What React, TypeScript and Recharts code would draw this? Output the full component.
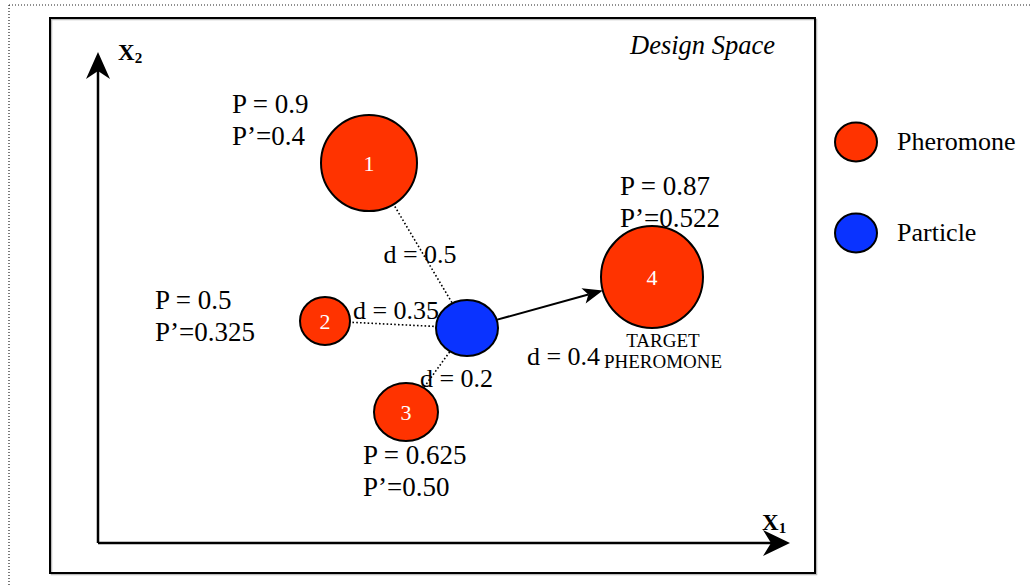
import {
  Legend,
  ReferenceArea,
  ReferenceLine,
  Scatter,
  ScatterChart,
  XAxis,
  YAxis,
} from 'recharts';

const SERIF = '"Liberation Serif", "Times New Roman", serif';
const RED = '#ff3300';
const BLUE = '#0a33ff';

// design-space coordinates, (0,0) is the corner of the X1 / X2 axes
const pheromoneIds = ['1', '2', '3', '4'];
const pheromoneX = [271, 227, 308, 554];
const pheromoneY = [380, 222, 131, 266];
const pheromoneP = ['0.9', '0.5', '0.625', '0.87'];
const pheromonePPrime = ['0.4', '0.325', '0.50', '0.522'];

const particleX = [369];
const particleY = [215];

// particle -> pheromone i
const distances = ['0.5', '0.35', '0.2', '0.4'];
const TARGET = 3;

const legendOrder = ['Pheromone', 'Particle'];

// ---- layout (not data) ----
const W = 1032;
const H = 586;
const X_DOMAIN = [-98, 934];
const Y_DOMAIN = [-43, 543];
const AXIS_LEN = { x: 692, y: 491 };
const BOX = { x1: -48, x2: 717, y1: -30, y2: 525 };
const PAGE = { left: -89, top: 538 };

const PH_R: Record<string, [number, number]> = {
  '1': [48, 48],
  '2': [25, 24],
  '3': [32, 29],
  '4': [51, 51],
};
const PA_R: [number, number] = [31, 28];

const P_OFF = [[-137, 50], [-170, 12], [-43, -52], [-32, 82]];
const D_OFF = [[2, -17], [0, 6], [20, -17], [4, -62]];

type Kind = 'p' | 'd' | 'target' | 'title' | 'axis';

const TEXT_STYLE: Record<Kind, { size: number; anchor: string; italic?: boolean; bold?: boolean }> = {
  p: { size: 27, anchor: 'start' },
  d: { size: 26, anchor: 'middle' },
  target: { size: 19, anchor: 'middle' },
  title: { size: 26.5, anchor: 'end', italic: true },
  axis: { size: 23, anchor: 'start', bold: true },
};

const pheromones = pheromoneIds.map((id, i) => ({ id, x: pheromoneX[i], y: pheromoneY[i] }));
const particles = particleX.map((x, i) => ({ id: 'p' + i, x, y: particleY[i] }));

const annotations = [
  ...pheromoneIds.flatMap((_, i) => [
    { x: pheromoneX[i] + P_OFF[i][0], y: pheromoneY[i] + P_OFF[i][1], text: `P = ${pheromoneP[i]}`, kind: 'p' },
    { x: pheromoneX[i] + P_OFF[i][0], y: pheromoneY[i] + P_OFF[i][1] - 32, text: `P’=${pheromonePPrime[i]}`, kind: 'p' },
  ]),
  ...distances.map((d, i) => ({
    x: (pheromoneX[i] + particleX[0]) / 2 + D_OFF[i][0],
    y: (pheromoneY[i] + particleY[0]) / 2 + D_OFF[i][1],
    text: `d = ${d}`,
    kind: 'd',
  })),
  { x: pheromoneX[TARGET] + 11, y: pheromoneY[TARGET] - 70, text: 'TARGET', kind: 'target' },
  { x: pheromoneX[TARGET] + 11, y: pheromoneY[TARGET] - 91, text: 'PHEROMONE', kind: 'target' },
  { x: 677, y: 489, text: 'Design Space', kind: 'title' },
  { x: 20, y: 483, text: 'X', sub: '2', kind: 'axis' },
  { x: 664, y: 13, text: 'X', sub: '1', kind: 'axis' },
];

function PheromoneDot(p: any) {
  const [rx, ry] = PH_R[p.payload.id];
  return (
    <g>
      <ellipse cx={p.cx} cy={p.cy} rx={rx} ry={ry} fill={RED} stroke="#000" strokeWidth={2} />
      <text x={p.cx} y={p.cy} textAnchor="middle" dominantBaseline="central" fill="#fff" fontSize={22} fontFamily={SERIF}>
        {p.payload.id}
      </text>
    </g>
  );
}

function ParticleDot(p: any) {
  return <ellipse cx={p.cx} cy={p.cy} rx={PA_R[0]} ry={PA_R[1]} fill={BLUE} stroke="#000" strokeWidth={2} />;
}

function Annotation(p: any) {
  const a = p.payload;
  const st = TEXT_STYLE[a.kind as Kind];
  return (
    <text
      x={p.cx}
      y={p.cy}
      textAnchor={st.anchor as any}
      fontSize={st.size}
      fontStyle={st.italic ? 'italic' : 'normal'}
      fontWeight={st.bold ? 'bold' : 'normal'}
      fontFamily={SERIF}
      fill="#000"
    >
      {a.text}
      {a.sub && (
        <tspan fontSize={15} dy={3}>
          {a.sub}
        </tspan>
      )}
    </text>
  );
}

// line between two centres, trimmed at both ends, optional stealth arrowhead
function link(trimA: number, trimB: number, opts: { dash?: string; width: number; head?: [number, number, number] }) {
  return (p: any) => {
    const { x1, y1, x2, y2 } = p;
    const len = Math.hypot(x2 - x1, y2 - y1) || 1;
    const ux = (x2 - x1) / len;
    const uy = (y2 - y1) / len;
    const ax = x1 + ux * trimA;
    const ay = y1 + uy * trimA;
    const bx = x2 - ux * trimB;
    const by = y2 - uy * trimB;
    if (!opts.head) {
      return <line x1={ax} y1={ay} x2={bx} y2={by} stroke="#000" strokeWidth={opts.width} strokeDasharray={opts.dash} />;
    }
    const [L, hw, notch] = opts.head;
    const nx = -uy;
    const ny = ux;
    const pts = [
      [bx, by],
      [bx - ux * L + nx * hw, by - uy * L + ny * hw],
      [bx - ux * notch, by - uy * notch],
      [bx - ux * L - nx * hw, by - uy * L - ny * hw],
    ]
      .map((q) => q.join(','))
      .join(' ');
    return (
      <g>
        <line x1={ax} y1={ay} x2={bx - ux * notch} y2={by - uy * notch} stroke="#000" strokeWidth={opts.width} />
        <polygon points={pts} fill="#000" />
      </g>
    );
  };
}

function avgR(r: [number, number]) {
  return (r[0] + r[1]) / 2;
}

function LegendBox({ payload }: any) {
  const items = legendOrder
    .map((name) => (payload || []).find((e: any) => e.value === name))
    .filter(Boolean);
  return (
    <div style={{ fontFamily: SERIF, fontSize: 26, color: '#000' }}>
      {items.map((e: any) => (
        <div key={e.value} style={{ display: 'flex', alignItems: 'center', height: 42, marginBottom: 49 }}>
          <svg width={44} height={42}>
            <ellipse cx={22} cy={21} rx={21} ry={19.5} fill={e.color} stroke="#000" strokeWidth={2} />
          </svg>
          <span style={{ marginLeft: 19 }}>{e.value}</span>
        </div>
      ))}
    </div>
  );
}

export default function App() {
  const px = particles[0];
  return (
    <div style={{ position: 'absolute', left: 0, top: 0, width: W, height: H, background: '#fff' }}>
      <ScatterChart width={W} height={H} margin={{ top: 0, right: 0, bottom: 0, left: 0 }}>
        <XAxis type="number" dataKey="x" domain={X_DOMAIN} hide />
        <YAxis type="number" dataKey="y" domain={Y_DOMAIN} hide />

        {/* page border (dotted) */}
        <ReferenceLine
          ifOverflow="visible"
          segment={[{ x: PAGE.left, y: PAGE.top }, { x: X_DOMAIN[1], y: PAGE.top }]}
          stroke="#222"
          strokeWidth={1.2}
          strokeDasharray="1 2"
        />
        <ReferenceLine
          ifOverflow="visible"
          segment={[{ x: PAGE.left, y: PAGE.top }, { x: PAGE.left, y: Y_DOMAIN[0] }]}
          stroke="#222"
          strokeWidth={1.2}
          strokeDasharray="1 2"
        />

        {/* design space frame */}
        <ReferenceArea
          ifOverflow="visible"
          x1={BOX.x1 + 1.5}
          x2={BOX.x2 + 1.5}
          y1={BOX.y1 - 1.5}
          y2={BOX.y2 - 1.5}
          fill="none"
          fillOpacity={0}
          stroke="#bbb"
          strokeWidth={1.5}
        />
        <ReferenceArea
          ifOverflow="visible"
          x1={BOX.x1}
          x2={BOX.x2}
          y1={BOX.y1}
          y2={BOX.y2}
          fill="none"
          fillOpacity={0}
          stroke="#000"
          strokeWidth={2}
        />

        {/* axes */}
        <ReferenceLine
          ifOverflow="visible"
          segment={[{ x: 0, y: 0 }, { x: 0, y: AXIS_LEN.y }]}
          shape={link(0, 0, { width: 2.5, head: [27, 12, 19] })}
        />
        <ReferenceLine
          ifOverflow="visible"
          segment={[{ x: 0, y: 0 }, { x: AXIS_LEN.x, y: 0 }]}
          shape={link(0, 0, { width: 2.5, head: [27, 13, 19] })}
        />

        {/* particle -> pheromone links */}
        {pheromones.map((ph, i) => (
          <ReferenceLine
            key={ph.id}
            ifOverflow="visible"
            segment={[{ x: px.x, y: px.y }, { x: ph.x, y: ph.y }]}
            shape={
              i === TARGET
                ? link(avgR(PA_R), avgR(PH_R[ph.id]), { width: 2, head: [20, 8, 15] })
                : link(avgR(PA_R), avgR(PH_R[ph.id]), { width: 1.6, dash: '1.6 2.2' })
            }
          />
        ))}

        <Scatter name="Pheromone" data={pheromones} fill={RED} shape={PheromoneDot} isAnimationActive={false} />
        <Scatter name="Particle" data={particles} fill={BLUE} shape={ParticleDot} isAnimationActive={false} />
        <Scatter name="labels" data={annotations} shape={Annotation} legendType="none" isAnimationActive={false} />

        <Legend
          layout="vertical"
          align="center"
          verticalAlign="middle"
          content={<LegendBox />}
          wrapperStyle={{ left: 834, top: 121, width: 'auto', height: 'auto' }}
        />
      </ScatterChart>
    </div>
  );
}
